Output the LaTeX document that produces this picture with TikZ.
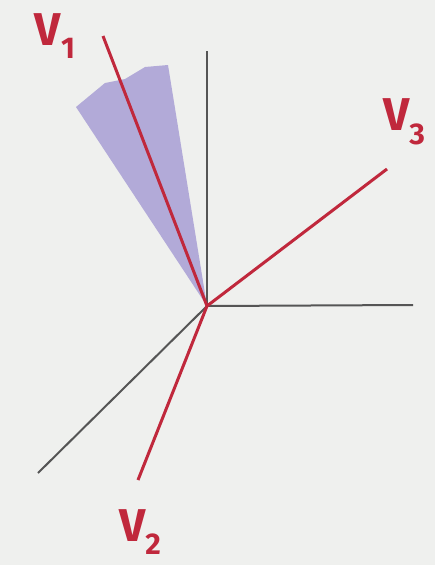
\documentclass[tikz,border=0pt]{standalone}
\usepackage{fontspec}
\setmainfont{Fira Sans}
\usetikzlibrary{positioning}
\definecolor{vecred}{RGB}{192,40,60}
\definecolor{conepurple}{RGB}{178,170,216}
\definecolor{axisgray}{RGB}{85,85,85}
\definecolor{paper}{RGB}{239,240,238}

\begin{document}
\begin{tikzpicture}[
    x=1pt, y=-1pt,
    axis/.style={draw=axisgray, line width=2pt},
    vec/.style={draw=vecred, line width=3pt},
    lbl/.style={text=vecred, font=\fontsize{46}{46}\selectfont\bfseries, inner sep=0pt}]
\fill[paper] (0,0) rectangle (435,565);
\useasboundingbox (0,0) rectangle (435,565);

\coordinate (origin) at (207,306);
\coordinate (ztop) at (207,51);
\coordinate (xright) at (413,305);
\coordinate (yleft) at (38,473);
\coordinate (v1end) at (103,36);
\coordinate (v2end) at (138,480);
\coordinate (v3end) at (387,169);

% cone around v1
\fill[conepurple] (origin) -- (76,107) -- (105,83) -- (125,79) -- (145,67)
    -- (168,65) -- cycle;

\draw[axis] (origin) -- (ztop);
\draw[axis] (origin) -- (xright);
\draw[axis] (origin) -- (yleft);

\draw[vec] (origin) -- (v1end);
\draw[vec] (origin) -- (v2end);
\draw[vec] (origin) -- (v3end);

\node[lbl] (labelv1) at (55,36) {V\raisebox{-0.3em}{\fontsize{30}{30}\selectfont 1}};
\node[lbl] (labelv2) at (140,532) {V\raisebox{-0.3em}{\fontsize{30}{30}\selectfont 2}};
\node[lbl] (labelv3) at (404,122) {V\raisebox{-0.3em}{\fontsize{30}{30}\selectfont 3}};
\end{tikzpicture}
\end{document}
